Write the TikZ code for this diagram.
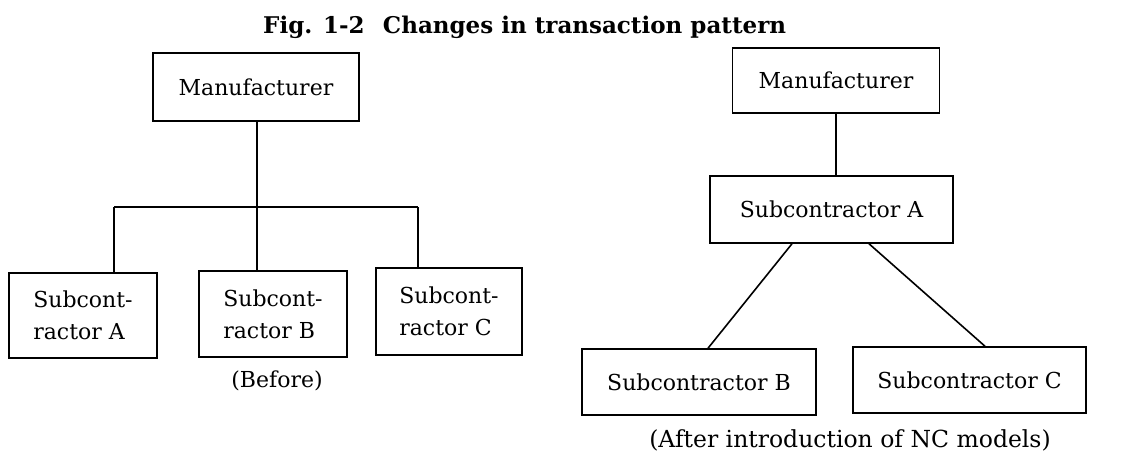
\documentclass[tikz,border=0pt]{standalone}
\usepackage{fontspec}
\setmainfont{DejaVu Serif}
\begin{document}
\begin{tikzpicture}[x=1pt,y=-1pt,
  box/.style={draw,line width=1.5pt,rectangle,inner sep=0pt,
    font=\fontsize{22}{32}\selectfont},
  link/.style={line width=1.6pt},
  caption/.style={font=\fontsize{22}{26}\selectfont,anchor=base,inner sep=0pt}]
\useasboundingbox (0,0) rectangle (1128,466);

% title
\node[anchor=base west,inner sep=0pt,font=\fontsize{23}{27}\selectfont\bfseries]
  (title) at (263,33) {Fig. 1-2\hspace{0.8em}Changes in transaction pattern};

% before: manufacturer dealing with every subcontractor directly
\node[box,minimum width=206,minimum height=68] (lm) at (256,87) {Manufacturer};
\node[box,minimum width=148,minimum height=85,align=left] (la) at (83,315.5) {Subcont-\\ractor A};
\node[box,minimum width=148,minimum height=86,align=left] (lb) at (273,314) {Subcont-\\ractor B};
\node[box,minimum width=146,minimum height=87,align=left] (lc) at (449,311.5) {Subcont-\\ractor C};
\coordinate (ja) at (114,207);
\coordinate (jb) at (257,207);
\coordinate (jc) at (418,207);
\draw[link] (lm.south -| jb) -- (jb);
\draw[link] (ja) -- (jc);
\draw[link] (ja) -- (ja |- la.north);
\draw[link] (jb) -- (jb |- lb.north);
\draw[link] (jc) -- (jc |- lc.north);
\node[caption] (before) at (277,387) {(Before)};

% after: orders pass through subcontractor A
\node[box,minimum width=207,minimum height=65] (rm) at (836,80.5) {Manufacturer};
\node[box,minimum width=243,minimum height=67] (ra) at (831.5,209.5) {Subcontractor A};
\node[box,minimum width=234,minimum height=66] (rb) at (699,382) {Subcontractor B};
\node[box,minimum width=233,minimum height=66] (rc) at (969.5,380) {Subcontractor C};
\draw[link] (rm.south) -- (rm.south |- ra.north);
\draw[link] ([xshift=-39.5]ra.south) -- ([xshift=9]rb.north);
\draw[link] ([xshift=37.5]ra.south) -- ([xshift=15.5]rc.north);
\node[caption,font=\fontsize{23.5}{27}\selectfont] (after) at (850,447) {(After introduction of NC models)};
\end{tikzpicture}
\end{document}
